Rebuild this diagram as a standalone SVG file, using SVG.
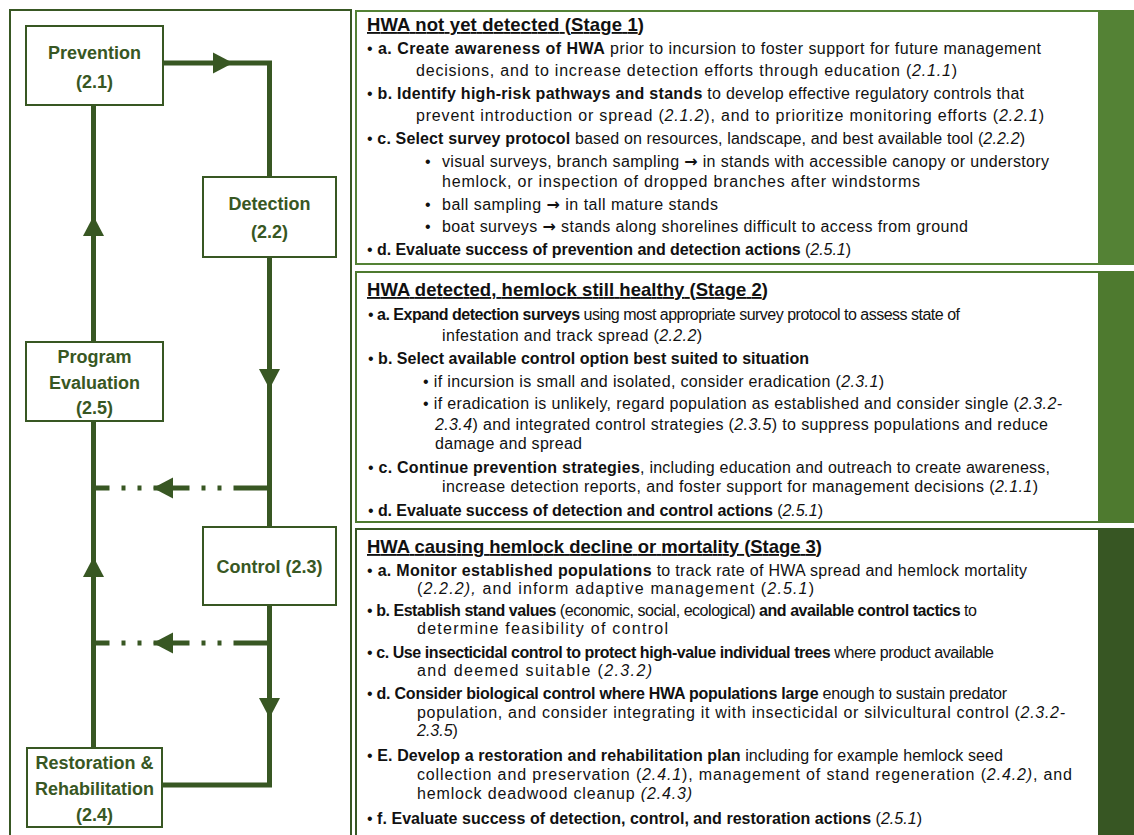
<svg xmlns="http://www.w3.org/2000/svg" width="1134" height="835" viewBox="0 0 1134 835">
<style>
.frame{fill:#fff;stroke:#385723;stroke-width:2}
.node rect{fill:#fff;stroke:#385723;stroke-width:2}
.node text{font-family:"Liberation Sans",Arial,sans-serif;font-weight:bold;font-size:18px;fill:#385723;text-anchor:middle}
.flow{fill:none;stroke:#385723;stroke-width:5}
.dash{fill:none;stroke:#385723;stroke-width:5;stroke-dasharray:36 12 4 12 4 12}
.ah{fill:#385723}
.t{font-family:"Liberation Sans",Arial,sans-serif;font-size:16px;fill:#111}
.h{font-family:"Liberation Sans",Arial,sans-serif;font-size:18.5px;font-weight:bold;fill:#111;text-decoration:underline}
.b{font-weight:bold}
.i{font-style:italic}
.ar{font-family:"DejaVu Sans",sans-serif;font-weight:bold}
</style>
<defs>
<path id="arrow" d="M0,0 L-20,-10.5 L-20,10.5 Z"/>
</defs>
<rect width="1134" height="835" fill="#fff"/>

<!-- left frame -->
<rect class="frame" x="10" y="10" width="341" height="840"/>

<!-- connectors -->
<g id="connectors">
<path class="flow" d="M163,63 H269.5 V177"/>
<path class="flow" d="M269.5,257 V527"/>
<path class="flow" d="M269.5,605 V785 H162"/>
<path class="flow" d="M93.5,748 V421"/>
<path class="flow" d="M93.5,342 V105"/>
<path class="dash" d="M269.5,488 H93.5"/>
<path class="dash" d="M269.5,643 H93.5"/>
<use href="#arrow" class="ah" transform="translate(233,63)"/>
<use href="#arrow" class="ah" transform="translate(269.5,389) rotate(90)"/>
<use href="#arrow" class="ah" transform="translate(269.5,718) rotate(90)"/>
<use href="#arrow" class="ah" transform="translate(93.5,216) rotate(-90)"/>
<use href="#arrow" class="ah" transform="translate(93.5,557) rotate(-90)"/>
<use href="#arrow" class="ah" transform="translate(153,488) rotate(180)"/>
<use href="#arrow" class="ah" transform="translate(153,643) rotate(180)"/>
</g>

<g id="node-prevention" class="node">
<rect x="26" y="26" width="137" height="79"/>
<text x="94.5" y="59">Prevention</text>
<text x="94.5" y="88">(2.1)</text>
</g>
<g id="node-detection" class="node">
<rect x="203" y="177" width="133" height="80"/>
<text x="269.5" y="210">Detection</text>
<text x="269.5" y="238">(2.2)</text>
</g>
<g id="node-evaluation" class="node">
<rect x="26" y="342" width="137" height="79"/>
<text x="94.5" y="363">Program</text>
<text x="94.5" y="389">Evaluation</text>
<text x="94.5" y="414">(2.5)</text>
</g>
<g id="node-control" class="node">
<rect x="203" y="527" width="133" height="78"/>
<text x="269.5" y="573">Control (2.3)</text>
</g>
<g id="node-restoration" class="node">
<rect x="27" y="748" width="135" height="79"/>
<text x="94.5" y="769">Restoration &amp;</text>
<text x="94.5" y="795">Rehabilitation</text>
<text x="94.5" y="821">(2.4)</text>
</g>

<!-- Stage 1 -->
<g id="stage1">
<rect x="356" y="11" width="790" height="253" fill="#fff" stroke="#548235" stroke-width="2"/>
<rect x="1098" y="11" width="40" height="253" fill="#548235"/>
<text class="h" x="367" y="31" textLength="277">HWA not yet detected (Stage 1)</text>
<text class="t" x="367" y="54" textLength="674">• <tspan class="b">a. Create awareness of HWA</tspan> prior to incursion to foster support for future management</text>
<text class="t" x="416" y="76" textLength="541">decisions, and to increase detection efforts through education (<tspan class="i">2.1.1</tspan>)</text>
<text class="t" x="367" y="99" textLength="657">• <tspan class="b">b. Identify high-risk pathways and stands</tspan> to develop effective regulatory controls that</text>
<text class="t" x="416" y="121" textLength="628">prevent introduction or spread (<tspan class="i">2.1.2</tspan>), and to prioritize monitoring efforts (<tspan class="i">2.2.1</tspan>)</text>
<text class="t" x="367" y="144" textLength="658">• <tspan class="b">c. Select survey protocol</tspan> based on resources, landscape, and best available tool (<tspan class="i">2.2.2</tspan>)</text>
<text class="t" x="425" y="167">•</text>
<text class="t" x="442" y="167" textLength="607">visual surveys, branch sampling <tspan class="ar">→</tspan> in stands with accessible canopy or understory</text>
<text class="t" x="442" y="187" textLength="478">hemlock, or inspection of dropped branches after windstorms</text>
<text class="t" x="425" y="210">•</text>
<text class="t" x="442" y="210" textLength="276">ball sampling <tspan class="ar">→</tspan> in tall mature stands</text>
<text class="t" x="425" y="232">•</text>
<text class="t" x="442" y="232" textLength="526">boat surveys <tspan class="ar">→</tspan> stands along shorelines difficult to access from ground</text>
<text class="t" x="367" y="255" textLength="484">• <tspan class="b">d. Evaluate success of prevention and detection actions</tspan> (<tspan class="i">2.5.1</tspan>)</text>
</g>

<!-- Stage 2 -->
<g id="stage2">
<rect x="356" y="272" width="790" height="250" fill="#fff" stroke="#4e7a2f" stroke-width="2"/>
<rect x="1098" y="272" width="40" height="250" fill="#4e7a2f"/>
<text class="h" x="367" y="296" textLength="401">HWA detected, hemlock still healthy (Stage 2)</text>
<text class="t" x="368" y="320" textLength="592">• <tspan class="b">a. Expand detection surveys</tspan> using most appropriate survey protocol to assess state of</text>
<text class="t" x="442" y="341" textLength="260">infestation and track spread (<tspan class="i">2.2.2</tspan>)</text>
<text class="t" x="368" y="364" textLength="441">• <tspan class="b">b. Select available control option best suited to situation</tspan></text>
<text class="t" x="423" y="387" textLength="461">• if incursion is small and isolated, consider eradication (<tspan class="i">2.3.1</tspan>)</text>
<text class="t" x="423" y="409" textLength="639">• if eradication is unlikely, regard population as established and consider single (<tspan class="i">2.3.2-</tspan></text>
<text class="t" x="435" y="430" textLength="613"><tspan class="i">2.3.4</tspan>) and integrated control strategies (<tspan class="i">2.3.5</tspan>) to suppress populations and reduce</text>
<text class="t" x="435" y="449" textLength="147">damage and spread</text>
<text class="t" x="368" y="473" textLength="682">• <tspan class="b">c. Continue prevention strategies</tspan>, including education and outreach to create awareness,</text>
<text class="t" x="442" y="492" textLength="596">increase detection reports, and foster support for management decisions (<tspan class="i">2.1.1</tspan>)</text>
<text class="t" x="368" y="516" textLength="455">• <tspan class="b">d. Evaluate success of detection and control actions</tspan> (<tspan class="i">2.5.1</tspan>)</text>
</g>

<!-- Stage 3 -->
<g id="stage3">
<rect x="356" y="529" width="790" height="320" fill="#fff" stroke="#375623" stroke-width="2"/>
<rect x="1098" y="529" width="40" height="320" fill="#375623"/>
<text class="h" x="367" y="553" textLength="455">HWA causing hemlock decline or mortality (Stage 3)</text>
<text class="t" x="367" y="576" textLength="660">• <tspan class="b">a. Monitor established populations</tspan> to track rate of HWA spread and hemlock mortality</text>
<text class="t" x="417" y="594" textLength="397">(<tspan class="i">2.2.2),</tspan> and inform adaptive management (<tspan class="i">2.5.1</tspan>)</text>
<text class="t" x="367" y="616" textLength="610">• <tspan class="b">b. Establish stand values</tspan> (economic, social, ecological) <tspan class="b">and available control tactics</tspan> to</text>
<text class="t" x="417" y="634" textLength="251">determine feasibility of control</text>
<text class="t" x="367" y="658" textLength="627">• <tspan class="b">c. Use insecticidal control to protect high-value individual trees</tspan> where product available</text>
<text class="t" x="417" y="676" textLength="235">and deemed suitable (<tspan class="i">2.3.2)</tspan></text>
<text class="t" x="367" y="699" textLength="640">• <tspan class="b">d. Consider biological control where HWA populations large</tspan> enough to sustain predator</text>
<text class="t" x="417" y="718" textLength="648">population, and consider integrating it with insecticidal or silvicultural control (<tspan class="i">2.3.2-</tspan></text>
<text class="t" x="417" y="736"><tspan class="i">2.3.5</tspan>)</text>
<text class="t" x="367" y="761" textLength="636">• <tspan class="b">E. Develop a restoration and rehabilitation plan</tspan> including for example hemlock seed</text>
<text class="t" x="417" y="780" textLength="655">collection and preservation (<tspan class="i">2.4.1</tspan>), management of stand regeneration (<tspan class="i">2.4.2)</tspan>, and</text>
<text class="t" x="417" y="799" textLength="275">hemlock deadwood cleanup <tspan class="i">(2.4.3)</tspan></text>
<text class="t" x="367" y="824" textLength="555">• <tspan class="b">f. Evaluate success of detection, control, and restoration actions</tspan> (<tspan class="i">2.5.1</tspan>)</text>
</g>
</svg>
